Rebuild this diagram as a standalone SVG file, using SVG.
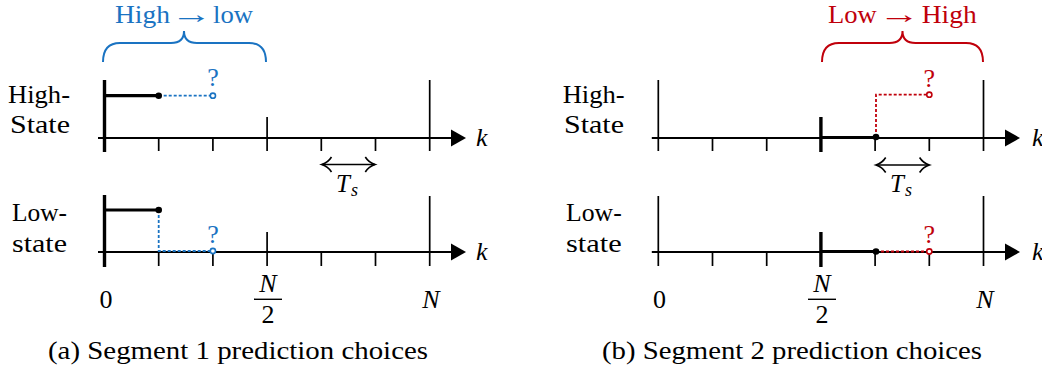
<svg xmlns="http://www.w3.org/2000/svg" width="1042" height="372" viewBox="0 0 1042 372">
<defs>
<style>
text{font-family:'Liberation Serif','DejaVu Serif',serif;fill:#000}
.lbl{font-size:26px}
.it{font-style:italic}
.ax{stroke:#000;stroke-width:2;fill:none}
.tk{stroke:#000;stroke-width:1.7;fill:none}
.thk{stroke:#000;stroke-width:3.4;fill:none}
.sig{stroke:#000;stroke-width:3.2;fill:none}
.blue{stroke:#1a73c2;stroke-width:1.8;fill:none;stroke-dasharray:3 2}
.red{stroke:#c0000b;stroke-width:1.8;fill:none;stroke-dasharray:3 2}
.bt{fill:#1a73c2}
.rt{fill:#c0000b}
.brb{stroke:#1a73c2;stroke-width:2;fill:none}
.brr{stroke:#c0000b;stroke-width:2;fill:none}
.arr{fill:#000}
.dbl{stroke:#000;stroke-width:1.6;fill:none}
</style>
</defs>

<!-- Panel (a) -->
<g id="panel-a">
  <g id="a-labels">
    <text class="lbl" x="8" y="103" textLength="62" lengthAdjust="spacingAndGlyphs">High-</text>
    <text class="lbl" x="10" y="133" textLength="60" lengthAdjust="spacingAndGlyphs">State</text>
    <text class="lbl" x="12" y="221" textLength="55" lengthAdjust="spacingAndGlyphs">Low-</text>
    <text class="lbl" x="12" y="252" textLength="55" lengthAdjust="spacingAndGlyphs">state</text>
  </g>
  <g id="a-brace">
    <path class="brb" d="M103 62 Q103 43 120 43 L171 43 Q184 43 184 31 Q184 43 197 43 L249 43 Q266 43 266 62"/>
    <text class="lbl bt" x="115" y="23" textLength="55" lengthAdjust="spacingAndGlyphs">High</text>
    <text class="bt" font-size="24" transform="translate(191.5 23) scale(1.75 1.1)" x="0" y="0" text-anchor="middle">→</text>
    <text class="lbl bt" x="213" y="23" textLength="40" lengthAdjust="spacingAndGlyphs">low</text>
  </g>
  <g id="a-high-axis">
    <line class="ax" x1="98" y1="138" x2="452" y2="138"/>
    <path class="arr" d="M466 138 L451 129.5 L451 146.5 Z"/>
    <line class="thk" x1="104.5" y1="80" x2="104.5" y2="152"/>
    <line class="tk" x1="158.7" y1="138" x2="158.7" y2="151"/>
    <line class="tk" x1="212.9" y1="138" x2="212.9" y2="151"/>
    <line class="tk" x1="267.1" y1="117" x2="267.1" y2="151"/>
    <line class="tk" x1="321.3" y1="138" x2="321.3" y2="151"/>
    <line class="tk" x1="375.5" y1="138" x2="375.5" y2="151"/>
    <line class="tk" x1="429.7" y1="80" x2="429.7" y2="151"/>
    <text class="lbl it" x="476" y="146">k</text>
    <polyline class="sig" points="104.5,95.7 158.7,95.7"/>
    <line class="blue" x1="158.7" y1="95.7" x2="212.9" y2="95.7"/>
    <circle cx="158.7" cy="95.7" r="3.3" fill="#000"/>
    <circle cx="212.9" cy="95.7" r="2.6" fill="#fff" stroke="#1a73c2" stroke-width="1.6"/>
    <text class="lbl bt" x="212.9" y="86" text-anchor="middle">?</text>
  </g>
  <g id="a-ts">
    <line class="dbl" x1="321.8" y1="164.5" x2="375" y2="164.5"/>
    <path class="dbl" d="M331.5 157 C329 161 325 163.5 321.8 164.5 C325 165.5 329 168 331.5 172"/>
    <path class="dbl" d="M365.3 157 C367.8 161 371.8 163.5 375 164.5 C371.8 165.5 367.8 168 365.3 172"/>
    <text class="it" x="336" y="191.7" font-size="25">T</text>
    <text class="it" x="351" y="196" font-size="18">s</text>
  </g>
  <g id="a-low-axis">
    <line class="ax" x1="98" y1="252" x2="452" y2="252"/>
    <path class="arr" d="M466 252 L451 243.5 L451 260.5 Z"/>
    <line class="thk" x1="104.5" y1="195" x2="104.5" y2="267"/>
    <line class="tk" x1="158.7" y1="252" x2="158.7" y2="266"/>
    <line class="tk" x1="212.9" y1="252" x2="212.9" y2="266"/>
    <line class="tk" x1="267.1" y1="232" x2="267.1" y2="266"/>
    <line class="tk" x1="321.3" y1="252" x2="321.3" y2="266"/>
    <line class="tk" x1="375.5" y1="252" x2="375.5" y2="266"/>
    <line class="tk" x1="429.7" y1="196" x2="429.7" y2="266"/>
    <text class="lbl it" x="476" y="260">k</text>
    <polyline class="sig" points="104.5,210 158.7,210"/>
    <polyline class="blue" points="158.7,210 158.7,251 212.9,251"/>
    <circle cx="158.7" cy="210" r="3.3" fill="#000"/>
    <circle cx="212.9" cy="251" r="2.6" fill="#fff" stroke="#1a73c2" stroke-width="1.6"/>
    <text class="lbl bt" x="212.9" y="243" text-anchor="middle">?</text>
  </g>
  <g id="a-ticks-labels">
    <text class="lbl" x="106" y="308" text-anchor="middle">0</text>
    <text class="lbl it" x="268" y="291.7" text-anchor="middle">N</text>
    <line x1="254" y1="299.3" x2="282" y2="299.3" stroke="#000" stroke-width="1.4"/>
    <text class="lbl" x="268" y="323.3" text-anchor="middle">2</text>
    <text class="lbl it" x="431" y="308" text-anchor="middle">N</text>
  </g>
  <text id="caption-a" class="lbl" x="48" y="359" textLength="380" lengthAdjust="spacingAndGlyphs">(a) Segment 1 prediction choices</text>
</g>

<!-- Panel (b) -->
<g id="panel-b">
  <g id="b-labels">
    <text class="lbl" x="562.7" y="103" textLength="62" lengthAdjust="spacingAndGlyphs">High-</text>
    <text class="lbl" x="564" y="133" textLength="60" lengthAdjust="spacingAndGlyphs">State</text>
    <text class="lbl" x="566" y="221" textLength="55.7" lengthAdjust="spacingAndGlyphs">Low-</text>
    <text class="lbl" x="566" y="252" textLength="55.7" lengthAdjust="spacingAndGlyphs">state</text>
  </g>
  <g id="b-brace">
    <path class="brr" d="M822 62 Q822 43 839 43 L889.5 43 Q902.5 43 902.5 31 Q902.5 43 915.5 43 L966 43 Q983 43 983 62"/>
    <text class="lbl rt" x="828" y="23" textLength="48.7" lengthAdjust="spacingAndGlyphs">Low</text>
    <text class="rt" font-size="24" transform="translate(899.2 23) scale(1.75 1.1)" x="0" y="0" text-anchor="middle">→</text>
    <text class="lbl rt" x="921.7" y="23" textLength="55" lengthAdjust="spacingAndGlyphs">High</text>
  </g>
  <g id="b-high-axis">
    <line class="ax" x1="651.8" y1="138" x2="1006" y2="138"/>
    <path class="arr" d="M1020 138 L1005 129.5 L1005 146.5 Z"/>
    <line class="tk" x1="658.3" y1="80" x2="658.3" y2="151"/>
    <line class="tk" x1="712.5" y1="138" x2="712.5" y2="151"/>
    <line class="tk" x1="766.7" y1="138" x2="766.7" y2="151"/>
    <line class="thk" x1="820.9" y1="117" x2="820.9" y2="152"/>
    <line class="tk" x1="875.1" y1="138" x2="875.1" y2="151"/>
    <line class="tk" x1="929.3" y1="138" x2="929.3" y2="151"/>
    <line class="tk" x1="983.5" y1="80" x2="983.5" y2="151"/>
    <text class="lbl it" x="1032" y="146">k</text>
    <polyline class="sig" points="820.9,137.5 875.1,137.5"/>
    <polyline class="red" points="876,137 876,94.7 929.3,94.7"/>
    <circle cx="876" cy="137" r="3.3" fill="#000"/>
    <circle cx="929.3" cy="94.7" r="2.6" fill="#fff" stroke="#c0000b" stroke-width="1.6"/>
    <text class="lbl rt" x="929.3" y="87" text-anchor="middle">?</text>
  </g>
  <g id="b-ts">
    <line class="dbl" x1="876" y1="165" x2="929.3" y2="165"/>
    <path class="dbl" d="M885.7 157.5 C883.2 161.5 879.2 164 876 165 C879.2 166 883.2 168.5 885.7 172.5"/>
    <path class="dbl" d="M919.6 157.5 C922.1 161.5 926.1 164 929.3 165 C926.1 166 922.1 168.5 919.6 172.5"/>
    <text class="it" x="890" y="192" font-size="25">T</text>
    <text class="it" x="905" y="196.3" font-size="18">s</text>
  </g>
  <g id="b-low-axis">
    <line class="ax" x1="651.8" y1="252" x2="1006" y2="252"/>
    <path class="arr" d="M1020 252 L1005 243.5 L1005 260.5 Z"/>
    <line class="tk" x1="658.3" y1="196" x2="658.3" y2="266"/>
    <line class="tk" x1="712.5" y1="252" x2="712.5" y2="266"/>
    <line class="tk" x1="766.7" y1="252" x2="766.7" y2="266"/>
    <line class="thk" x1="820.9" y1="232" x2="820.9" y2="267"/>
    <line class="tk" x1="875.1" y1="252" x2="875.1" y2="266"/>
    <line class="tk" x1="929.3" y1="252" x2="929.3" y2="266"/>
    <line class="tk" x1="983.5" y1="196" x2="983.5" y2="266"/>
    <text class="lbl it" x="1032" y="260">k</text>
    <polyline class="sig" points="820.9,251.5 875.1,251.5"/>
    <line class="red" x1="876" y1="251.5" x2="929.3" y2="251.5"/>
    <circle cx="876" cy="251.5" r="3.3" fill="#000"/>
    <circle cx="929.3" cy="251.5" r="2.6" fill="#fff" stroke="#c0000b" stroke-width="1.6"/>
    <text class="lbl rt" x="929.3" y="243" text-anchor="middle">?</text>
  </g>
  <g id="b-ticks-labels">
    <text class="lbl" x="659.5" y="308" text-anchor="middle">0</text>
    <text class="lbl it" x="822" y="291.7" text-anchor="middle">N</text>
    <line x1="808" y1="299.3" x2="836" y2="299.3" stroke="#000" stroke-width="1.4"/>
    <text class="lbl" x="822" y="323.3" text-anchor="middle">2</text>
    <text class="lbl it" x="985" y="308" text-anchor="middle">N</text>
  </g>
  <text id="caption-b" class="lbl" x="602" y="359" textLength="380" lengthAdjust="spacingAndGlyphs">(b) Segment 2 prediction choices</text>
</g>
</svg>
